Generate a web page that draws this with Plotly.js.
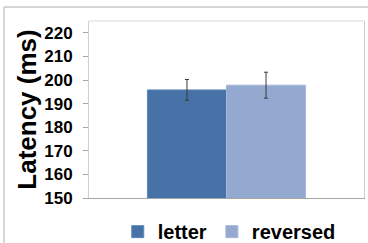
<!DOCTYPE html>
<html>
<head>
<meta charset="utf-8">
<script src="https://cdn.plot.ly/plotly-3.0.1.min.js"></script>
<style>html,body{margin:0;padding:0;background:#fff;}#chart{width:368px;height:243px;}</style>
</head>
<body>
<div id="chart"></div>
<script>
const categories = [""];
const seriesNames = ["letter", "reversed"];
const letterValues = [195.8];
const letterErrors = [4.4];
const reversedValues = [197.8];
const reversedErrors = [5.5];
const yTickValues = [150, 160, 170, 180, 190, 200, 210, 220];
const yTitle = "Latency (ms)";

const FONT = "Liberation Sans, Arial, sans-serif";
const traces = [
  {
    type: "bar", name: seriesNames[0], x: categories, y: letterValues,
    marker: {color: "#4672A7", line: {color: "#5d87b8", width: 1}},
    error_y: {type: "data", array: letterErrors, visible: true, color: "#3a3a3a", thickness: 1, width: 2}
  },
  {
    type: "bar", name: seriesNames[1], x: categories, y: reversedValues,
    marker: {color: "#94A9CF", line: {color: "#a6b8d9", width: 1}},
    error_y: {type: "data", array: reversedErrors, visible: true, color: "#3a3a3a", thickness: 1, width: 2}
  }
];

const layout = {
  width: 368, height: 243,
  margin: {l: 89, r: 4, t: 21, b: 45, pad: 0, autoexpand: false},
  paper_bgcolor: "#ffffff", plot_bgcolor: "#ffffff",
  barmode: "group", bargap: 0.425, bargroupgap: 0,
  showlegend: true,
  legend: {
    orientation: "h", x: 0.51, xanchor: "center", y: -0.19, yanchor: "middle",
    font: {family: FONT, size: 20, color: "#000", weight: "bold"},
    itemwidth: 30, tracegroupgap: 0
  },
  xaxis: {
    type: "category", showticklabels: false, ticks: "",
    showline: true, linecolor: "#a6a6a6", linewidth: 1, showgrid: false, zeroline: false, fixedrange: true
  },
  yaxis: {
    range: [150, 225], tickvals: yTickValues, ticks: "outside", ticklen: 5, tickcolor: "#a6a6a6",
    ticklabelstandoff: 7,
    showline: true, linecolor: "#cfcfcf", linewidth: 1, mirror: true, showgrid: false, zeroline: false,
    tickfont: {family: FONT, size: 17, color: "#000", weight: "bold"},
    title: {text: yTitle, font: {family: FONT, size: 26, color: "#000", weight: "bold"}, standoff: 0},
    fixedrange: true
  },
  shapes: [
    {type: "line", xref: "paper", yref: "paper", x0: 0, x1: 1, y0: 1, y1: 1, line: {color: "#d9d9d9", width: 1}},
    {type: "line", xref: "paper", yref: "paper", x0: -85/275, x1: 1.02, y0: (198-7)/177, y1: (198-7)/177, line: {color: "#c8c8c8", width: 1.5}},
    {type: "line", xref: "paper", yref: "paper", x0: -85/275, x1: -85/275, y0: (198-7)/177, y1: -0.3, line: {color: "#c8c8c8", width: 1.5}}
  ]
};

Plotly.newPlot("chart", traces, layout, {displayModeBar: false, staticPlot: true});
</script>
</body>
</html>
